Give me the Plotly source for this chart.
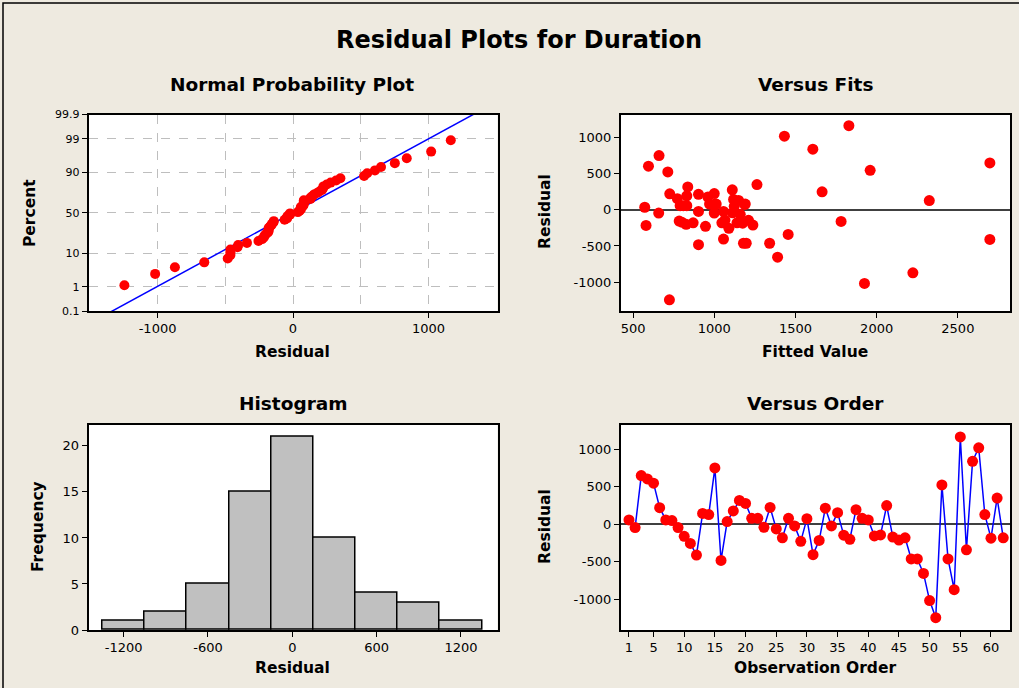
import plotly.graph_objects as go
from statistics import NormalDist, mean, stdev

# Residuals in observation order, and the matching fitted values
residuals = [58, -44, 650, 605, 548, 222, 58, 49, -44, -160,
             -255, -410, 145, 130, 752, -482, 36, 178, 318, 278,
             80, 80, -40, 225, -62, -180, 80, -22, -228, 75,
             -405, -215, 215, -22, 155, -145, -200, 195, 80, 58,
             -155, -142, 249, -170, -210, -180, -462, -462, -655, -1018,
             -1245, 525, -462, -872, 1165, -340, 840, 1020, 129, -185,
             350, -180]
fitted = [810, 658, 2697, 595, 1960, 726, 831, 1123, 1000, 1781,
          1090, 2697, 1119, 1150, 660, 903, 572, 961, 837, 1111,
          971, 1012, 1113, 1000, 1160, 1140, 1191, 1057, 946, 1187,
          1057, 580, 903, 903, 773, 1211, 827, 831, 1006, 790,
          784, 1066, 1664, 800, 1238, 1047, 1180, 1197, 1390, 1925,
          724, 714, 1341, 2223, 1829, 1455, 1607, 1432, 2324, 1175,
          1263, 870]
order = list(range(1, len(residuals) + 1))

# Axis tick definitions
pct_ticks = [0.1, 1, 10, 50, 90, 99, 99.9]
pct_labels = ["0.1", "1", "10", "50", "90", "99", "99.9"]
npp_xticks = [-1000, 0, 1000]
fits_xticks = [500, 1000, 1500, 2000, 2500]
resid_ticks = [-1000, -500, 0, 500, 1000]
hist_xticks = [-1200, -600, 0, 600, 1200]
hist_yticks = [0, 5, 10, 15, 20]
order_ticks = [1, 5, 10, 15, 20, 25, 30, 35, 40, 45, 50, 55, 60]

nd = NormalDist()
FONT = "DejaVu Sans"
BG = "#EEEAE0"


def txt(values):
    # plain hyphen for negative numbers
    return [str(v) for v in values]


# Normal probability plot positions
n = len(residuals)
sorted_res = sorted(residuals)
pos = [nd.inv_cdf((i - 0.3) / (n + 0.4)) for i in range(1, n + 1)]
mu, sd = mean(residuals), stdev(residuals)
line_x = [-1700, 1700]
line_y = [(v - mu) / sd for v in line_x]

fig = go.Figure()

fig.add_trace(go.Scatter(x=line_x, y=line_y, mode="lines",
                         line=dict(color="#0000FF", width=1.5),
                         xaxis="x", yaxis="y", hoverinfo="skip"))
fig.add_trace(go.Scatter(x=sorted_res, y=pos, mode="markers",
                         marker=dict(color="#FF0000", size=10),
                         xaxis="x", yaxis="y"))

fig.add_trace(go.Scatter(x=fitted, y=residuals, mode="markers",
                         marker=dict(color="#FF0000", size=11),
                         xaxis="x2", yaxis="y2"))

fig.add_trace(go.Histogram(x=residuals,
                           xbins=dict(start=-1350, end=1350, size=300),
                           marker=dict(color="#C0C0C0",
                                       line=dict(color="black", width=1.5)),
                           xaxis="x3", yaxis="y3"))

fig.add_trace(go.Scatter(x=order, y=residuals, mode="lines+markers",
                         line=dict(color="#0000FF", width=1.5),
                         marker=dict(color="#FF0000", size=11),
                         xaxis="x4", yaxis="y4"))

left_dom = [88.5 / 1019, 497.5 / 1019]
right_dom = [620.7 / 1019, 1010 / 1019]
top_dom = [1 - 311 / 688, 1 - 114.5 / 688]
bot_dom = [1 - 630 / 688, 1 - 424.7 / 688]

tickfont = dict(family=FONT, size=13, color="black")
base = dict(showline=True, mirror=True, linecolor="black", linewidth=1.5,
            ticks="outside", ticklen=5, tickwidth=1.2, tickcolor="black",
            tickfont=tickfont, zeroline=False, showgrid=False,
            automargin=False, fixedrange=True)

grid = dict(showgrid=True, gridcolor="#BEBEBE", gridwidth=1.2, griddash="dash")

fig.update_layout(
    width=1019, height=688, autosize=False,
    margin=dict(l=0, r=0, t=0, b=0, pad=0),
    paper_bgcolor=BG, plot_bgcolor="white",
    showlegend=False, bargap=0,
    xaxis=dict(base, domain=left_dom, anchor="y", range=[-1510, 1510],
               tickvals=npp_xticks, ticktext=txt(npp_xticks), **grid,
               minor=dict(tickvals=[-500, 500], ticklen=0, showgrid=True,
                          gridcolor="#BEBEBE", gridwidth=1.2, griddash="dash")),
    yaxis=dict(base, domain=top_dom, anchor="x",
               range=[nd.inv_cdf(0.001), nd.inv_cdf(0.999)],
               tickvals=[nd.inv_cdf(p / 100) for p in pct_ticks],
               ticktext=pct_labels, tickfont=dict(family=FONT, size=11, color="black"),
               **grid),
    xaxis2=dict(base, domain=right_dom, anchor="y2", range=[424, 2821],
                tickvals=fits_xticks, ticktext=txt(fits_xticks)),
    yaxis2=dict(base, domain=top_dom, anchor="x2", range=[-1400, 1320],
                tickvals=resid_ticks, ticktext=txt(resid_ticks),
                zeroline=True, zerolinecolor="#404040", zerolinewidth=1.5),
    xaxis3=dict(base, domain=left_dom, anchor="y3", range=[-1450, 1460],
                tickvals=hist_xticks, ticktext=txt(hist_xticks)),
    yaxis3=dict(base, domain=bot_dom, anchor="x3", range=[0, 22.3],
                tickvals=hist_yticks),
    xaxis4=dict(base, domain=right_dom, anchor="y4", range=[-0.35, 63.1],
                tickvals=order_ticks),
    yaxis4=dict(base, domain=bot_dom, anchor="x4", range=[-1410, 1328],
                tickvals=resid_ticks, ticktext=txt(resid_ticks),
                zeroline=True, zerolinecolor="#404040", zerolinewidth=1.5),
)


def label(text, x, y, size, angle=0):
    fig.add_annotation(text="<b>%s</b>" % text, x=x / 1019, y=1 - y / 688,
                       xref="paper", yref="paper", showarrow=False,
                       xanchor="center", yanchor="middle", textangle=angle,
                       font=dict(family=FONT, size=size, color="black"))


label("Residual Plots for Duration", 519, 40, 24)
label("Normal Probability Plot", 292, 84, 18.5)
label("Versus Fits", 815, 84, 18.5)
label("Histogram", 293, 403, 18.5)
label("Versus Order", 815, 403, 18.5)
label("Residual", 292, 352, 15.5)
label("Fitted Value", 815, 352, 15.5)
label("Residual", 292, 668, 15.5)
label("Observation Order", 815, 668, 15.5)
label("Percent", 30, 213, 15.5, -90)
label("Residual", 545, 212, 15.5, -90)
label("Frequency", 38, 527, 15.5, -90)
label("Residual", 545, 527, 15.5, -90)

# Outer frame of the graph window
fig.add_shape(type="rect", xref="paper", yref="paper",
              x0=3 / 1019, x1=1.02, y0=-0.02, y1=1 - 3 / 688,
              line=dict(color="black", width=1.5), fillcolor="rgba(0,0,0,0)",
              layer="below")

fig.write_html("out.html")
